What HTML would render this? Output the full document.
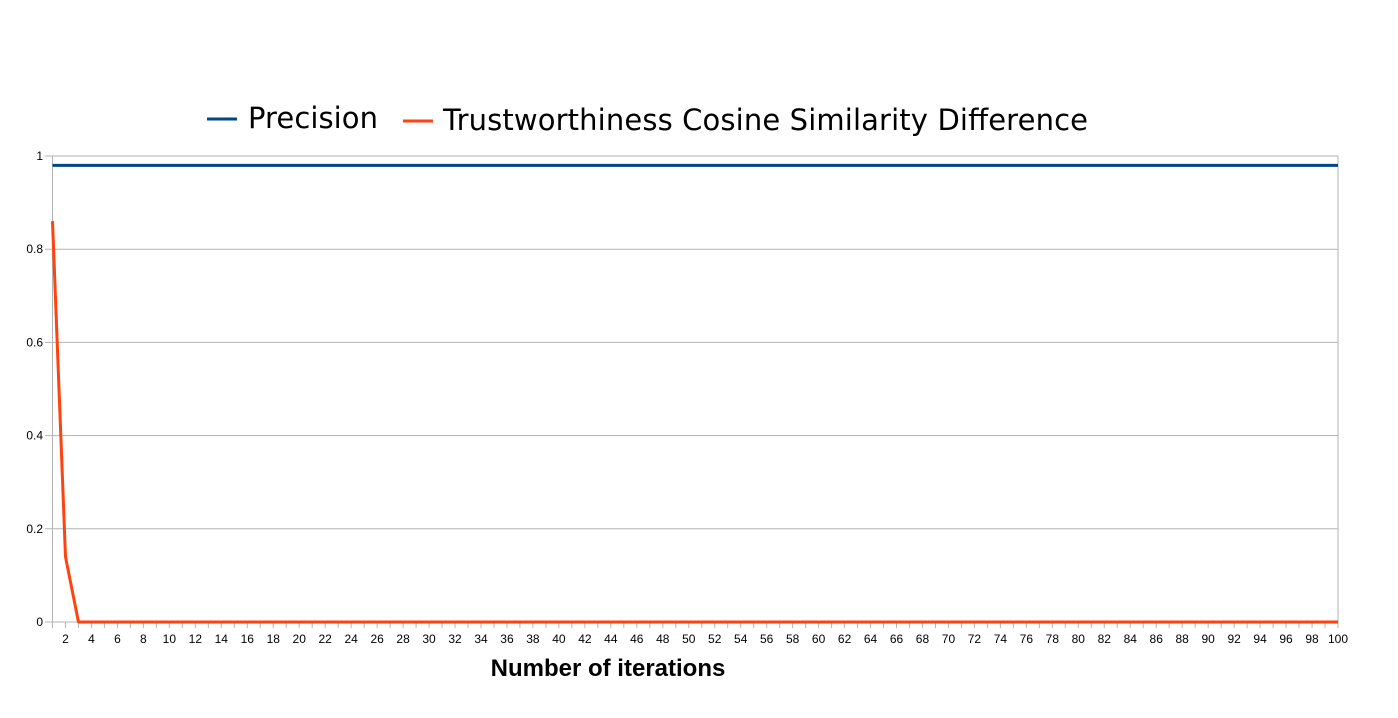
<!DOCTYPE html>
<html><head><meta charset="utf-8"><style>
body{margin:0;background:#fff}
svg{display:block;font-family:"Liberation Sans",sans-serif}
.dv{font-family:"DejaVu Sans",sans-serif}
</style></head><body>
<svg id="chart" width="1398" height="718">
<g id="legend">
<line x1="207" y1="119" x2="237" y2="119" stroke="#004586" stroke-width="3"/>
<text class="dv" x="248" y="128" font-size="29" textLength="130" fill="#000">Precision</text>
<line x1="403" y1="121" x2="433" y2="121" stroke="#ff420e" stroke-width="3"/>
<text class="dv" x="443" y="130" font-size="29" textLength="645" fill="#000">Trustworthiness Cosine Similarity Difference</text>
</g>
<g id="grid"></g><g id="axes"></g><g id="series"></g>
<text x="608" y="676" font-size="24" font-weight="bold" text-anchor="middle">Number of iterations</text>
</svg>
<script>
const categories = Array.from({length:100},(_,i)=>i+1);
const precision = Array(100).fill(0.98);
const trust = [0.86,0.14].concat(Array(98).fill(0));
const yTicks = [0,0.2,0.4,0.6,0.8,1];
const yTickLabels = ["0","0.2","0.4","0.6","0.8","1"];

const NS="http://www.w3.org/2000/svg";
const X0=52.5,X1=1338,Y0=622,Y1=156;
const xs=i=>X0+(X1-X0)*i/(categories.length-1);
const ys=v=>Y0-(Y0-Y1)*v;
function mk(tag,attrs,parent){const e=document.createElementNS(NS,tag);for(const k in attrs)e.setAttribute(k,attrs[k]);document.getElementById(parent).appendChild(e);return e;}

yTicks.forEach((t,i)=>{
  const l=mk('line',{x1:45,x2:X1,y1:ys(t),y2:ys(t),stroke:'#b3b3b3','stroke-width':1},'grid');
  
  
  const tx=mk('text',{x:43,y:ys(t)+4,'font-size':12,'text-anchor':'end'},'axes');
  tx.textContent=yTickLabels[i];
  
  
});
let a=mk('line',{x1:X0,x2:X0,y1:Y1,y2:Y0+6,stroke:'#b3b3b3'},'axes');


a=mk('line',{x1:X1,x2:X1,y1:Y1,y2:Y0+6,stroke:'#b3b3b3'},'axes');


categories.forEach((c,i)=>{
  const tk=mk('line',{x1:xs(i),x2:xs(i),y1:Y0,y2:Y0+6,stroke:'#b3b3b3'},'axes');
  
  
  if(c%2===0){
    const tx=mk('text',{x:xs(i),y:Y0+21,'font-size':12,'text-anchor':'middle'},'axes');
    tx.textContent=c;
    
    
  }
});
function series(vals,color,name){
  const p=mk('polyline',{points:vals.map((v,i)=>xs(i)+','+ys(v)).join(' '),fill:'none',stroke:color,'stroke-width':3,'stroke-linejoin':'round'},'series');
  
  
}
series(precision,'#004586','precision-line');
series(trust,'#ff420e','trustworthiness-line');
</script>
</body></html>
